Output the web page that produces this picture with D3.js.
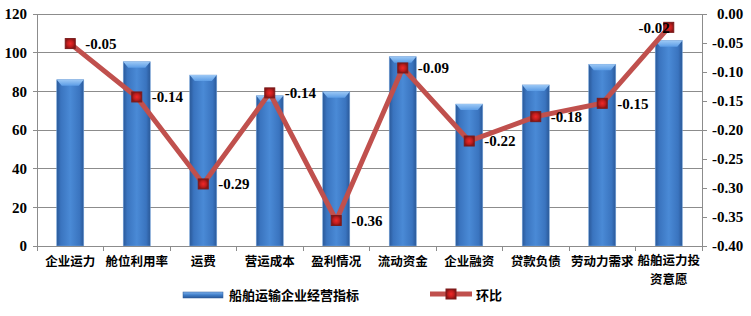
<!DOCTYPE html>
<html><head><meta charset="utf-8">
<script src="https://cdnjs.cloudflare.com/ajax/libs/d3/7.8.5/d3.min.js"></script>
<style>body{margin:0;background:#fff}svg{display:block}</style>
</head><body><svg id="c" width="751" height="316"></svg>
<script>
const categories = ["企业运力","舱位利用率","运费","营运成本","盈利情况","流动资金","企业融资","贷款负债","劳动力需求","船舶运力投资意愿"];
const barValues = [86, 95.3, 88.4, 77.7, 79.8, 97.9, 73.4, 83.3, 94, 106.2];
const ratioValues = [-0.051, -0.143, -0.293, -0.136, -0.356, -0.093, -0.219, -0.177, -0.154, -0.023];
const leftTicks = [0,20,40,60,80,100,120];
const rightTicks = [0,-0.05,-0.1,-0.15,-0.2,-0.25,-0.3,-0.35,-0.4];
const seriesNames = ["船舶运输企业经营指标","环比"];

const svg = d3.select("#c");
const L = 37, R = 702, T = 14, B = 246;
const x = d3.scaleBand().domain(categories).range([L, R]).paddingInner(0).paddingOuter(0);
const y = d3.scaleLinear().domain([0,120]).range([B,T]);
const y2 = d3.scaleLinear().domain([-0.4,0]).range([B,T]);
const numFont = "'Liberation Serif','Times New Roman',serif";
const cjkFont = "'Noto Sans CJK SC','Noto Sans CJK JP',sans-serif";

const defs = svg.append("defs");
const bg = defs.append("linearGradient").attr("id","barG").attr("x1","0").attr("x2","1").attr("y1","0").attr("y2","0");
bg.append("stop").attr("offset","0").attr("stop-color","#2a5898");
bg.append("stop").attr("offset","0.15").attr("stop-color","#3a74bf");
bg.append("stop").attr("offset","0.5").attr("stop-color","#4a8ad6");
bg.append("stop").attr("offset","0.85").attr("stop-color","#3a74bf");
bg.append("stop").attr("offset","1").attr("stop-color","#2a5898");
const tg = defs.append("linearGradient").attr("id","topG").attr("x1","0").attr("x2","0").attr("y1","0").attr("y2","1");
tg.append("stop").attr("offset","0").attr("stop-color","#9cc8f5");
tg.append("stop").attr("offset","1").attr("stop-color","#5c9de6");
const mg = defs.append("radialGradient").attr("id","mG");
mg.append("stop").attr("offset","0").attr("stop-color","#f02828");
mg.append("stop").attr("offset","0.6").attr("stop-color","#c01e1e");
mg.append("stop").attr("offset","1").attr("stop-color","#8a1515");
const lg = defs.append("linearGradient").attr("id","legBar").attr("x1","0").attr("x2","0").attr("y1","0").attr("y2","1");
lg.append("stop").attr("offset","0").attr("stop-color","#7fb2ec");
lg.append("stop").attr("offset","0.5").attr("stop-color","#3f7ec9");
lg.append("stop").attr("offset","1").attr("stop-color","#2a5898");

// gridlines
svg.append("g").selectAll("line").data(leftTicks.filter(d=>d>0)).join("line")
  .attr("x1",L-4).attr("x2",R).attr("y1",d=>y(d)).attr("y2",d=>y(d))
  .attr("stroke","#8c8c8c").attr("stroke-width",1).attr("shape-rendering","crispEdges");

// left axis
const gl = svg.append("g");
gl.append("line").attr("x1",L).attr("x2",L).attr("y1",T).attr("y2",B).attr("stroke","#8c8c8c").attr("shape-rendering","crispEdges");
gl.selectAll("line.t").data(leftTicks).join("line").attr("class","t")
  .attr("x1",L-4).attr("x2",L).attr("y1",d=>y(d)).attr("y2",d=>y(d)).attr("stroke","#8c8c8c").attr("shape-rendering","crispEdges");
gl.selectAll("text").data(leftTicks).join("text")
  .attr("x",27).attr("y",d=>y(d)).attr("dy","0.35em").attr("text-anchor","end")
  .attr("font-family",numFont).attr("font-weight","bold").attr("font-size",15).text(d=>d);

// right axis
const gr = svg.append("g");
gr.append("line").attr("x1",R).attr("x2",R).attr("y1",T).attr("y2",B).attr("stroke","#8c8c8c").attr("shape-rendering","crispEdges");
gr.selectAll("line.t").data(rightTicks).join("line").attr("class","t")
  .attr("x1",R).attr("x2",R+5).attr("y1",d=>y2(d)).attr("y2",d=>y2(d)).attr("stroke","#8c8c8c").attr("shape-rendering","crispEdges");
gr.selectAll("text").data(rightTicks).join("text")
  .attr("x",d=>d===0?717:712).attr("y",d=>y2(d)).attr("dy","0.35em").attr("text-anchor","start")
  .attr("font-family",numFont).attr("font-weight","bold").attr("font-size",15).text(d=>d3.format(".2f")(d).replace("−","-"));

// bars
const bw = 27;
const bars = svg.append("g").selectAll("g").data(categories).join("g");
bars.append("rect")
  .attr("x",(d)=>x(d)+x.bandwidth()/2-bw/2).attr("width",bw)
  .attr("y",(d,i)=>y(barValues[i])).attr("height",(d,i)=>B-y(barValues[i]))
  .attr("fill","url(#barG)").attr("stroke","#6f9fd8").attr("stroke-width",0.6);
bars.append("path")
  .attr("d",(d,i)=>{const x0=x(d)+x.bandwidth()/2-bw/2, t=y(barValues[i]);
    return `M${x0},${t}L${x0+bw},${t}L${x0+bw-5},${t+6}L${x0+5},${t+6}Z`;})
  .attr("fill","url(#topG)");

// bottom axis
const gb = svg.append("g");
gb.append("line").attr("x1",L).attr("x2",R).attr("y1",B).attr("y2",B).attr("stroke","#8c8c8c").attr("shape-rendering","crispEdges");
const bticks = categories.map(c=>x(c)).concat([R]);
gb.selectAll("line.t").data(bticks).join("line").attr("class","t")
  .attr("x1",d=>d).attr("x2",d=>d).attr("y1",B).attr("y2",B+5).attr("stroke","#8c8c8c").attr("shape-rendering","crispEdges");
const catLines = [];
categories.forEach(c=>{
  if(c.length>5){ catLines.push({c, t:c.slice(0,5), y:261}); catLines.push({c, t:c.slice(5), y:280}); }
  else catLines.push({c, t:c, y:262});
});
gb.selectAll("text").data(catLines).join("text")
  .attr("x",d=>x(d.c)+x.bandwidth()/2).attr("y",d=>d.y).attr("dy","0.35em").attr("text-anchor","middle")
  .attr("font-family",cjkFont).attr("font-weight","bold").attr("font-size",12.5).text(d=>d.t);

// line
const cx = d=>x(d)+x.bandwidth()/2;
svg.append("path").datum(categories)
  .attr("d",d3.line().x(d=>cx(d)).y((d,i)=>y2(ratioValues[i])))
  .attr("fill","none").attr("stroke","#c0504d").attr("stroke-width",5).attr("stroke-linejoin","miter");
svg.append("g").selectAll("rect").data(categories).join("rect")
  .attr("x",d=>cx(d)-5).attr("y",(d,i)=>y2(ratioValues[i])-5).attr("width",10).attr("height",10)
  .attr("fill","url(#mG)").attr("stroke","#7a1b1b").attr("stroke-width",1);
svg.append("g").selectAll("text").data(categories).join("text")
  .attr("x",(d,i)=>i===categories.length-1?cx(d)+1:cx(d)+15)
  .attr("y",(d,i)=>y2(ratioValues[i])).attr("dy","0.35em")
  .attr("text-anchor",(d,i)=>i===categories.length-1?"end":"start")
  .attr("font-family",numFont).attr("font-weight","bold").attr("font-size",15)
  .text((d,i)=>d3.format(".2f")(ratioValues[i]).replace("−","-"));

// legend
const lgG = svg.append("g");
lgG.append("rect").attr("x",183).attr("y",292).attr("width",40).attr("height",6).attr("fill","url(#legBar)").attr("stroke","#2a5898").attr("stroke-width",0.5);
lgG.append("text").attr("x",229).attr("y",295).attr("dy","0.35em").attr("font-family",cjkFont).attr("font-weight","bold").attr("font-size",13).text(seriesNames[0]);
lgG.append("line").attr("x1",430).attr("x2",472).attr("y1",294).attr("y2",294).attr("stroke","#c0504d").attr("stroke-width",5);
lgG.append("rect").attr("x",446).attr("y",289).attr("width",10).attr("height",10).attr("fill","url(#mG)").attr("stroke","#7a1b1b");
lgG.append("text").attr("x",476).attr("y",295).attr("dy","0.35em").attr("font-family",cjkFont).attr("font-weight","bold").attr("font-size",13).text(seriesNames[1]);
</script></body></html>
